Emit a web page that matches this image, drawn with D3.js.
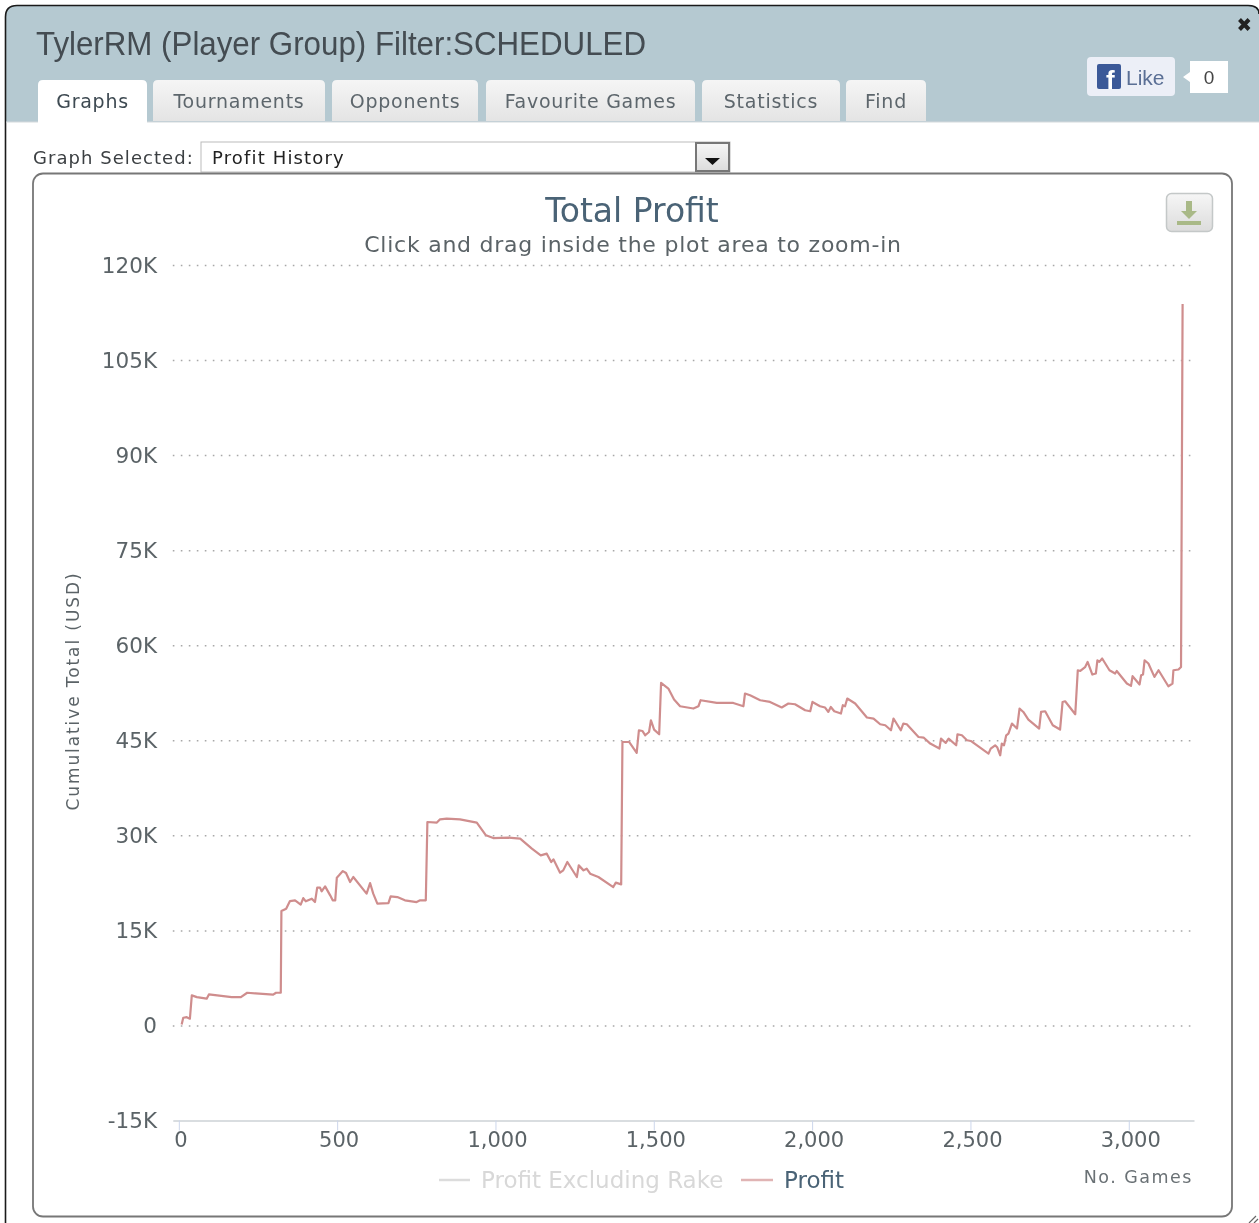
<!DOCTYPE html>
<html>
<head>
<meta charset="utf-8">
<script src="https://cdnjs.cloudflare.com/ajax/libs/d3/7.8.5/d3.min.js"></script>
<style>
html, body { margin: 0; padding: 0; background: #fff; overflow: hidden; }
svg { display: block; filter: blur(0.4px); }
text { font-family: "DejaVu Sans", sans-serif; }
</style>
</head>
<body>
<div id="chart"></div>
<script>
// values
const games = [9,14,25,35,41,57,88,95,167,196,216,298,307,322,324,339,351,367,385,393,401,420,430,437,446,451,462,478,486,494,499,506,518,528,541,551,593,604,614,627,662,669,690,714,751,762,780,785,815,825,846,888,941,970,993,1041,1078,1115,1143,1162,1176,1183,1204,1214,1227,1257,1263,1278,1288,1299,1325,1372,1380,1397,1401,1422,1446,1453,1464,1473,1485,1491,1501,1517,1523,1546,1564,1583,1625,1641,1648,1699,1751,1783,1788,1804,1836,1867,1904,1925,1946,1978,1994,2001,2025,2041,2051,2059,2070,2091,2097,2104,2111,2136,2173,2194,2215,2231,2249,2257,2280,2288,2299,2336,2352,2373,2402,2407,2422,2431,2455,2459,2473,2489,2501,2557,2564,2578,2585,2594,2599,2606,2613,2620,2631,2647,2655,2667,2683,2717,2723,2736,2760,2783,2791,2799,2831,2839,2847,2862,2870,2885,2896,2901,2907,2916,2939,2957,2962,2994,3007,3012,3034,3039,3045,3050,3062,3081,3094,3125,3138,3141,3157,3165,3170];
const profit = [160,1220,1310,1060,4740,4470,4220,4890,4470,4470,5160,4850,5160,5160,18050,18430,19630,19740,19060,20100,19580,20010,19470,21740,21740,21170,21950,20530,19740,19740,23320,23690,24360,24050,22630,23420,20800,22470,20800,19220,19310,20370,20260,19740,19470,19740,19740,32100,32010,32530,32640,32530,32010,30000,29570,29640,29480,27900,26840,27110,25790,26210,24110,24470,25790,23420,25260,24470,24740,23950,23420,21840,22530,22260,44730,44730,43000,46580,46470,45790,46310,48160,46690,45950,54050,53160,51430,50370,50010,50370,51320,50890,50890,50370,52380,52110,51320,51050,50170,50800,50690,49740,49580,51050,50370,50170,49470,50260,49580,49220,50530,50370,51590,50800,48590,48430,47530,47370,46580,48430,46580,47640,47530,45520,45430,44480,43690,45270,44580,45270,44210,45950,45790,45000,44890,42900,43690,44210,43850,42630,44480,44210,45790,46060,47640,46850,50010,49470,48270,46850,49470,49580,47370,46690,51050,51160,49110,56050,55940,56530,57370,55370,55530,57630,57370,57900,56050,55530,55940,53950,53580,55110,53800,55270,55370,57630,57110,55000,56050,53530,53950,56050,56170,56580,113850];
const yTicks = [-15000,0,15000,30000,45000,60000,75000,90000,105000,120000];
const yTickLabels = ['-15K','0','15K','30K','45K','60K','75K','90K','105K','120K'];
const xTicks = [0,500,1000,1500,2000,2500,3000];
const tabNames = ['Graphs','Tournaments','Opponents','Favourite Games','Statistics','Find'];
const legendNames = ['Profit Excluding Rake','Profit'];

const width = 1259, height = 1223;
const plot = {left: 172.8, right: 1194, top: 265, bottom: 1120.5};

const svg = d3.select('#chart').append('svg')
  .attr('width', width).attr('height', height);

const defs = svg.append('defs');
const tabGrad = defs.append('linearGradient').attr('id', 'tabGrad').attr('x2', 0).attr('y2', 1);
tabGrad.append('stop').attr('offset', 0).attr('stop-color', '#f5f5f5');
tabGrad.append('stop').attr('offset', 1).attr('stop-color', '#e4e4e4');
const btnGrad = defs.append('linearGradient').attr('id', 'btnGrad').attr('x2', 0).attr('y2', 1);
btnGrad.append('stop').attr('offset', 0).attr('stop-color', '#f6f6f6');
btnGrad.append('stop').attr('offset', 1).attr('stop-color', '#dcdcdc');

function label(g, x, y, str, size, fill, anchor, spacing) {
  return g.append('text').attr('x', x).attr('y', y).text(str)
    .attr('font-size', size).attr('fill', fill)
    .attr('text-anchor', anchor || 'start')
    .style('letter-spacing', spacing || '0');
}

// window frame and header
function addWindow() {
  svg.append('path')
    .attr('d', 'M5.5,1223V17Q5.5,5.5 17,5.5H1248Q1259,5.5 1259,14V122H5.5Z')
    .attr('fill', '#b5c9d1');
  svg.append('rect').attr('x', 6).attr('y', 122).attr('width', 1253).attr('height', 1101).attr('fill', '#fff');
  svg.append('path')
    .attr('d', 'M5.5,1223V17Q5.5,5.5 17,5.5H1248Q1259,5.5 1259,14')
    .attr('fill', 'none').attr('stroke', '#1a1a1a').attr('stroke-width', 1.6);
  svg.append('line').attr('x1', 6).attr('x2', 1259).attr('y1', 122).attr('y2', 122).attr('stroke', '#d4d9dc');

  label(svg, 36, 55, 'TylerRM (Player Group) Filter:SCHEDULED', 33, '#444c52')
    .style('font-family', '"Liberation Sans", sans-serif')
    .attr('textLength', 610).attr('lengthAdjust', 'spacingAndGlyphs');

  svg.append('path').attr('d', 'M1239.5,19.5L1249,29.5M1249,19.5L1239.5,29.5')
    .attr('stroke', '#222').attr('stroke-width', 4);
}

function addTabs() {
  const tabX = [[38,147],[153,325],[332,478],[486,695],[702,840],[846,926]];
  tabNames.forEach((name, i) => {
    const [a, b] = tabX[i];
    const active = i === 0;
    svg.append('path')
      .attr('d', `M${a},${active ? 123 : 121}V85Q${a},80 ${a + 5},80H${b - 5}Q${b},80 ${b},85V${active ? 123 : 121}Z`)
      .attr('fill', active ? '#fff' : 'url(#tabGrad)');
    label(svg, (a + b) / 2, 108, name, 19, active ? '#3e4a52' : '#5d666c', 'middle', '0.75px');
  });
}

function addLike() {
  svg.append('rect').attr('x', 1087).attr('y', 57).attr('width', 88).attr('height', 39).attr('rx', 4).attr('fill', '#eceff7');
  svg.append('rect').attr('x', 1097).attr('y', 64).attr('width', 24).attr('height', 25).attr('rx', 2).attr('fill', '#3b5998');
  label(svg, 1106, 89, 'f', 26, '#fff').style('font-family', '"Liberation Sans", sans-serif').attr('font-weight', 700);
  label(svg, 1126, 85, 'Like', 21, '#5a6f95').style('font-family', '"Liberation Sans", sans-serif');
  svg.append('path').attr('d', 'M1190,61H1228V93H1190V82L1183,77L1190,72Z').attr('fill', '#fff');
  label(svg, 1209, 84, '0', 19, '#444', 'middle').style('font-family', '"Liberation Sans", sans-serif');
}

function addSelect() {
  label(svg, 33, 164, 'Graph Selected:', 18, '#3b3f42', 'start', '1.05px');
  svg.append('rect').attr('x', 201).attr('y', 142).attr('width', 529).attr('height', 30)
    .attr('fill', '#fff').attr('stroke', '#bbb');
  label(svg, 212, 164, 'Profit History', 18, '#222', 'start', '1.15px');
  svg.append('rect').attr('x', 696).attr('y', 143).attr('width', 33).attr('height', 28)
    .attr('fill', 'url(#btnGrad)').attr('stroke', '#777').attr('stroke-width', 2);
  svg.append('path').attr('d', 'M705,158H720L712.5,165Z').attr('fill', '#111');
}

function addPanel() {
  svg.append('rect').attr('x', 33).attr('y', 173.5).attr('width', 1199).attr('height', 1043)
    .attr('rx', 10).attr('fill', '#fff').attr('stroke', '#777').attr('stroke-width', 1.8);
  svg.append('rect').attr('x', 1166.5).attr('y', 193.5).attr('width', 46).attr('height', 38).attr('rx', 5)
    .attr('fill', 'url(#btnGrad)').attr('stroke', '#c4c8c8').attr('stroke-width', 1.5);
  svg.append('path').attr('d', 'M1186,201H1192V211H1197L1189,219L1181,211H1186Z').attr('fill', '#a9b987');
  svg.append('rect').attr('x', 1177).attr('y', 221).attr('width', 24).attr('height', 4).attr('fill', '#a9b987');
  svg.append('path').attr('d', 'M1249,1223L1256,1216M1254,1223L1258,1219').attr('stroke', '#666').attr('stroke-width', 1.2);
}

function addChart() {
  const x = d3.scaleLinear().domain([-19, 3206]).range([plot.left, plot.right]);
  const y = d3.scaleLinear().domain([-15000, 120000]).range([plot.bottom, plot.top]);

  label(svg, 632, 222, 'Total Profit', 33, '#4a6376', 'middle');
  label(svg, 633, 252, 'Click and drag inside the plot area to zoom-in', 22, '#5b6367', 'middle', '0.76px');

  // dotted grid
  svg.append('g').attr('transform', `translate(${plot.left},0)`)
    .call(d3.axisRight(y).tickValues(yTicks.slice(1)).tickSize(plot.right - plot.left).tickFormat(''))
    .call(g => g.select('.domain').remove())
    .call(g => g.selectAll('line').attr('stroke', '#a8a8a8').attr('stroke-width', 1.5).attr('stroke-dasharray', '1.6,6.4'));

  svg.append('g').attr('transform', 'translate(157,0.5)')
    .call(d3.axisLeft(y).tickValues(yTicks).tickSize(0).tickPadding(0).tickFormat((d, i) => yTickLabels[i]))
    .call(g => g.select('.domain').remove())
    .call(g => g.selectAll('text').attr('fill', '#5b6367').attr('font-size', 21.5).style('font-family', '"DejaVu Sans", sans-serif'));

  svg.append('g').attr('transform', `translate(0,${plot.bottom})`)
    .call(d3.axisBottom(x).tickValues(xTicks).tickSize(10).tickSizeOuter(0).tickPadding(2).tickFormat(d3.format(',')))
    .call(g => g.select('.domain').attr('stroke', '#ccd2d6').attr('stroke-width', 1.5))
    .call(g => g.selectAll('line').attr('stroke', '#ccd6eb'))
    .call(g => g.selectAll('text').attr('dx', 1.5).attr('fill', '#5b6367').attr('font-size', 21).style('font-family', '"DejaVu Sans", sans-serif'));

  const line = d3.line().x(d => x(d[0])).y(d => y(d[1]));
  svg.append('path').datum(d3.zip(games, profit))
    .attr('d', line).attr('fill', 'none')
    .attr('stroke', '#cf8d8d').attr('stroke-width', 2.2).attr('stroke-linejoin', 'round');

  label(svg, 0, 0, 'Cumulative Total (USD)', 17, '#5b6367', 'middle', '1.9px')
    .attr('transform', 'translate(79,691) rotate(-90)');
  label(svg, 1193, 1183, 'No. Games', 17.5, '#6a7175', 'end', '1.5px');

  // legend
  svg.append('line').attr('x1', 439).attr('x2', 470).attr('y1', 1180).attr('y2', 1180).attr('stroke', '#dcdcdc').attr('stroke-width', 2.5);
  label(svg, 481, 1188, legendNames[0], 23, '#d8d8d8');
  svg.append('line').attr('x1', 741).attr('x2', 773).attr('y1', 1180).attr('y2', 1180).attr('stroke', '#e0b4b4').attr('stroke-width', 2.5);
  label(svg, 784, 1188, legendNames[1], 23, '#4a6376');
}

addWindow();
addTabs();
addLike();
addSelect();
addPanel();
addChart();
</script>
</body>
</html>
